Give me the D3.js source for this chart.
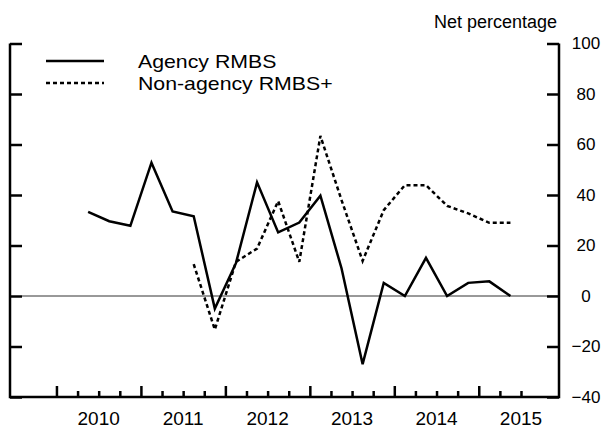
<!DOCTYPE html>
<html>
<head>
<meta charset="utf-8">
<script src="https://cdn.jsdelivr.net/npm/d3@7/dist/d3.min.js"></script>
<style>
  body { margin: 0; background: #fff; }
  svg text { font-family: "Liberation Sans", Arial, sans-serif; fill: #000; }
</style>
</head>
<body>
<svg id="chart" width="610" height="431"></svg>
<script>
// quarterly survey, net percentage reporting increased demand
const quarters = ['2010Q2', '2010Q3', '2010Q4', '2011Q1', '2011Q2', '2011Q3', '2011Q4',
	'2012Q1', '2012Q2', '2012Q3', '2012Q4', '2013Q1', '2013Q2', '2013Q3', '2013Q4',
	'2014Q1', '2014Q2', '2014Q3', '2014Q4', '2015Q1', '2015Q2'];

const agency = [33.3, 29.6, 27.8, 52.8, 33.5, 31.6, -5, 13, 45, 25.2, 29.1,
	39.7, 11, -27, 5.2, 0, 15.1, 0, 5.2, 5.8, 0];

const nonAgency = [null, null, null, null, null, 12.6, -13.3, 13.5, 18.8, 37.6, 13.5,
	63.4, 38, 13.9, 34, 43.9, 43.9, 35.7, 32.7, 29, 29];

const yTicks = [-40, -20, 0, 20, 40, 60, 80, 100];
const yearTicks = [2010, 2011, 2012, 2013, 2014, 2015];
const quarterTicks = [2010.25, 2010.5, 2010.75, 2011.25, 2011.5, 2011.75, 2012.25, 2012.5, 2012.75,
	2013.25, 2013.5, 2013.75, 2014.25, 2014.5, 2014.75, 2015.25, 2015.5];
const yearLabels = ['2010', '2011', '2012', '2013', '2014', '2015'];

const seriesNames = ['Agency RMBS', 'Non-agency RMBS+'];

// quarter string -> decimal year, point sits mid-quarter
function qToYear(q) {
	const yr = +q.slice(0, 4);
	const qn = +q.slice(5);
	return yr + (qn - 1) / 4 + 0.125;
}

const svg = d3.select('#chart');

const plotLeft = 10, plotRight = 559, plotTop = 43.5, plotBottom = 397;

const x = d3.scaleLinear().domain([2009.45, 2015.95]).range([plotLeft, plotRight]);
const y = d3.scaleLinear().domain([-40, 100]).range([plotBottom, plotTop]);

// zero line
svg.append('line')
	.attr('x1', plotLeft + 12).attr('x2', plotRight)
	.attr('y1', y(0)).attr('y2', y(0))
	.attr('stroke', '#333').attr('stroke-width', 1);

// left ticks (pointing in, no labels)
const leftAxis = svg.append('g')
	.attr('transform', `translate(${plotLeft},0)`)
	.call(d3.axisLeft(y).tickValues(yTicks).tickSize(-12).tickFormat(''));
leftAxis.select('.domain').remove();

// right ticks + labels
const rightAxis = svg.append('g')
	.attr('transform', `translate(${plotRight},0)`)
	.call(d3.axisRight(y).tickValues(yTicks).tickSize(-12).tickPadding(0));
rightAxis.select('.domain').remove();
rightAxis.selectAll('text')
	.attr('x', 27)
	.attr('text-anchor', 'middle')
	.style('font-size', '17px');

// bottom: year ticks + quarter ticks pointing up
const yearAxis = svg.append('g')
	.attr('transform', `translate(0,${plotBottom})`)
	.call(d3.axisBottom(x).tickValues(yearTicks).tickSize(-11).tickFormat(''));
yearAxis.select('.domain').remove();

const qAxis = svg.append('g')
	.attr('transform', `translate(0,${plotBottom})`)
	.call(d3.axisBottom(x).tickValues(quarterTicks).tickSize(-6).tickFormat(''));
qAxis.select('.domain').remove();

svg.selectAll('.tick line').attr('stroke', '#000').attr('stroke-width', 2.5);

svg.selectAll('text.year')
	.data(yearLabels)
	.enter()
	.append('text')
	.classed('year', true)
	.attr('x', d => x(+d + 0.5))
	.attr('y', 425)
	.attr('text-anchor', 'middle')
	.style('font-size', '19px')
	.text(d => d);

// frame: left, bottom, right
svg.append('path')
	.attr('d', `M${plotLeft},${plotTop}V${plotBottom}H${plotRight}V${plotTop}`)
	.attr('fill', 'none')
	.attr('stroke', '#000')
	.attr('stroke-width', 2.5);

svg.append('text')
	.attr('x', 557)
	.attr('y', 28)
	.attr('text-anchor', 'end')
	.style('font-size', '18px')
	.text('Net percentage');

// series lines
function lineFor(vals) {
	return d3.line()
		.defined((d, i) => vals[i] != null)
		.x((d, i) => x(qToYear(quarters[i])))
		.y((d, i) => y(vals[i]))(quarters);
}

svg.append('path')
	.attr('d', lineFor(agency))
	.attr('fill', 'none')
	.attr('stroke', '#000')
	.attr('stroke-width', 2.5)
	.attr('stroke-linejoin', 'miter');

svg.append('path')
	.attr('d', lineFor(nonAgency))
	.attr('fill', 'none')
	.attr('stroke', '#000')
	.attr('stroke-width', 2.5)
	.attr('stroke-dasharray', '4,3');

// legend - text in the original is a bit wide, stretch it
const legend = svg.append('g');
seriesNames.forEach((name, i) => {
	const ly = 61 + i * 22;
	legend.append('line')
		.attr('x1', 46).attr('x2', 104)
		.attr('y1', ly).attr('y2', ly)
		.attr('stroke', '#000')
		.attr('stroke-width', 2.5)
		.attr('stroke-dasharray', i === 1 ? '4,3' : null);
	const t = legend.append('text')
		.attr('x', 138)
		.attr('y', ly)
		.attr('dy', '0.35em')
		.style('font-size', '19px')
		.text(name);
	const w = t.node().getComputedTextLength();
	t.attr('textLength', w * 1.12).attr('lengthAdjust', 'spacingAndGlyphs');
});
</script>
</body>
</html>
